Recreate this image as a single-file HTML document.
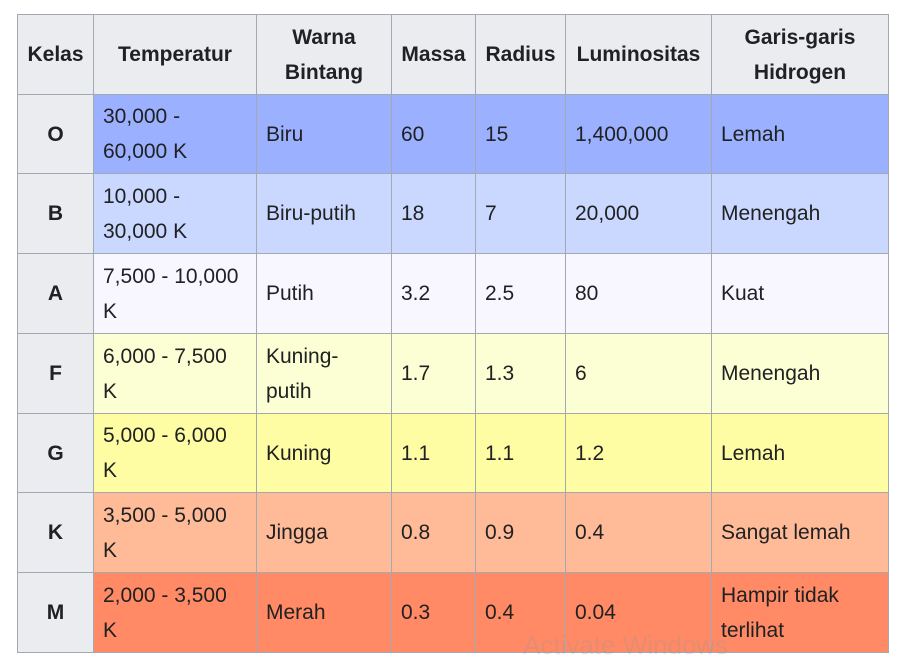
<!DOCTYPE html><html><head><style>
body{margin:0;background:#fff;width:899px;height:665px;overflow:hidden;font-family:"Liberation Sans",Arial,sans-serif;color:#202122}
table{position:absolute;left:17px;top:14px;border-collapse:collapse;table-layout:fixed;font-size:21px;line-height:35px}
td,th{border:1px solid #a2a9b1;padding:0 9px;vertical-align:middle;text-align:left;white-space:nowrap;overflow:hidden}
th{background:#eaecf0;font-weight:bold;text-align:center;padding:0 4px}
.o td{background:#9bb0ff}.b td{background:#cad8ff}.a td{background:#f8f7ff}.f td{background:#fcffd4}.g td{background:#fffda3}.k td{background:#ffbb98}.m td{background:#ff8a65}
.wm{position:absolute;left:523px;top:630px;font-size:26px;color:rgba(150,150,150,0.25)}
</style></head><body>
<table>
<colgroup><col style="width:76px"><col style="width:163px"><col style="width:135px"><col style="width:84px"><col style="width:90px"><col style="width:146px"><col style="width:177px"></colgroup>
<tr style="height:80px"><th>Kelas</th><th>Temperatur</th><th>Warna<br>Bintang</th><th>Massa</th><th>Radius</th><th>Luminositas</th><th>Garis-garis<br>Hidrogen</th></tr>
<tr class="o" style="height:79px"><th>O</th><td>30,000 -<br>60,000 K</td><td>Biru</td><td>60</td><td>15</td><td>1,400,000</td><td>Lemah</td></tr>
<tr class="b" style="height:80px"><th>B</th><td>10,000 -<br>30,000 K</td><td>Biru-putih</td><td>18</td><td>7</td><td>20,000</td><td>Menengah</td></tr>
<tr class="a" style="height:80px"><th>A</th><td>7,500 - 10,000<br>K</td><td>Putih</td><td>3.2</td><td>2.5</td><td>80</td><td>Kuat</td></tr>
<tr class="f" style="height:80px"><th>F</th><td>6,000 - 7,500<br>K</td><td>Kuning-<br>putih</td><td>1.7</td><td>1.3</td><td>6</td><td>Menengah</td></tr>
<tr class="g" style="height:79px"><th>G</th><td>5,000 - 6,000<br>K</td><td>Kuning</td><td>1.1</td><td>1.1</td><td>1.2</td><td>Lemah</td></tr>
<tr class="k" style="height:80px"><th>K</th><td>3,500 - 5,000<br>K</td><td>Jingga</td><td>0.8</td><td>0.9</td><td>0.4</td><td>Sangat lemah</td></tr>
<tr class="m" style="height:80px"><th>M</th><td>2,000 - 3,500<br>K</td><td>Merah</td><td>0.3</td><td>0.4</td><td>0.04</td><td>Hampir tidak<br>terlihat</td></tr>
</table>
<div class="wm">Activate Windows</div>
</body></html>
